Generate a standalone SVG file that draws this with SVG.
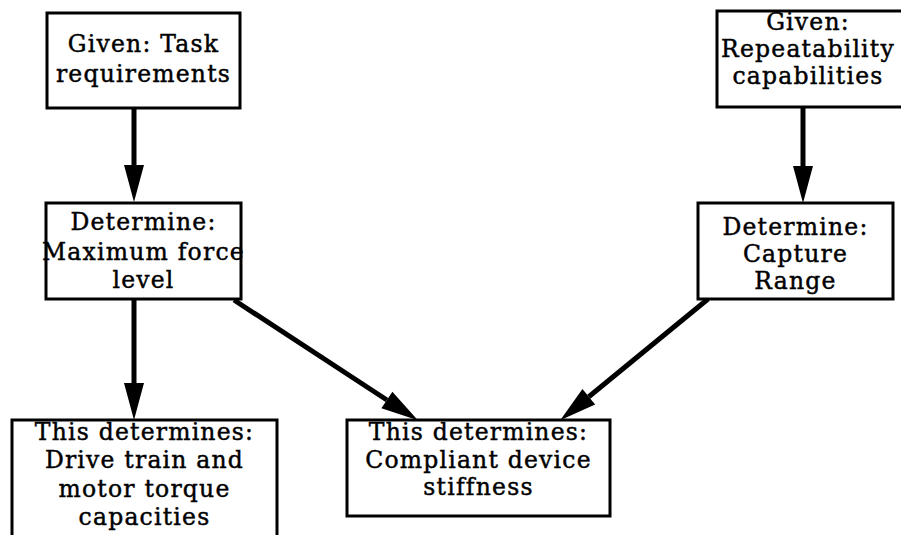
<svg xmlns="http://www.w3.org/2000/svg" width="901" height="535" viewBox="0 0 901 535">
<style>
.box{fill:#fff;stroke:#000;stroke-width:3}
.lbl{font-family:"DejaVu Serif","Liberation Serif",serif;font-size:23.5px;letter-spacing:1.2px;fill:#000;stroke:#000;stroke-width:0.45px;text-anchor:middle}
.conn{stroke:#000;stroke-width:5;fill:none}
</style>
<defs>
<marker id="ah" markerUnits="userSpaceOnUse" markerWidth="40" markerHeight="22" refX="0" refY="10" orient="auto" overflow="visible">
<path d="M0,0 L37,10 L0,20 Z" fill="#000"/>
</marker>
</defs>
<rect width="901" height="535" fill="#fff"/>
<g id="connectors">
<line class="conn" x1="134" y1="108" x2="134" y2="165" marker-end="url(#ah)"/>
<line class="conn" x1="803" y1="107" x2="803" y2="166" marker-end="url(#ah)"/>
<line class="conn" x1="134" y1="299" x2="134" y2="383" marker-end="url(#ah)"/>
<line class="conn" x1="234" y1="300" x2="386.9" y2="400" marker-end="url(#ah)"/>
<line class="conn" x1="708" y1="299" x2="588.8" y2="396.8" marker-end="url(#ah)"/>
</g>
<g id="n1">
<rect class="box" x="47" y="13" width="193" height="95"/>
<text class="lbl" x="143.5" y="52">Given: Task</text>
<text class="lbl" x="143.5" y="82">requirements</text>
</g>
<g id="n2">
<text class="lbl" x="143.5" y="260">Maximum force</text>
<rect class="box" x="46" y="203" width="195" height="96" style="fill:none"/>
<text class="lbl" x="143.5" y="230">Determine:</text>
<text class="lbl" x="143.5" y="288">level</text>
</g>
<g id="n3">
<rect class="box" x="717" y="11" width="192" height="96"/>
<text class="lbl" x="808" y="30">Given:</text>
<text class="lbl" x="808" y="57">Repeatability</text>
<text class="lbl" x="808" y="84">capabilities</text>
</g>
<g id="n4">
<rect class="box" x="698" y="203" width="195" height="96"/>
<text class="lbl" x="795.5" y="235">Determine:</text>
<text class="lbl" x="795.5" y="262">Capture</text>
<text class="lbl" x="795.5" y="289">Range</text>
</g>
<g id="n5">
<rect class="box" x="12" y="420" width="265" height="130"/>
<text class="lbl" x="144.5" y="440">This determines:</text>
<text class="lbl" x="144.5" y="468">Drive train and</text>
<text class="lbl" x="144.5" y="497">motor torque</text>
<text class="lbl" x="144.5" y="525">capacities</text>
</g>
<g id="n6">
<rect class="box" x="347" y="420" width="263" height="96"/>
<text class="lbl" x="478.5" y="440">This determines:</text>
<text class="lbl" x="478.5" y="468">Compliant device</text>
<text class="lbl" x="478.5" y="495">stiffness</text>
</g>
</svg>
